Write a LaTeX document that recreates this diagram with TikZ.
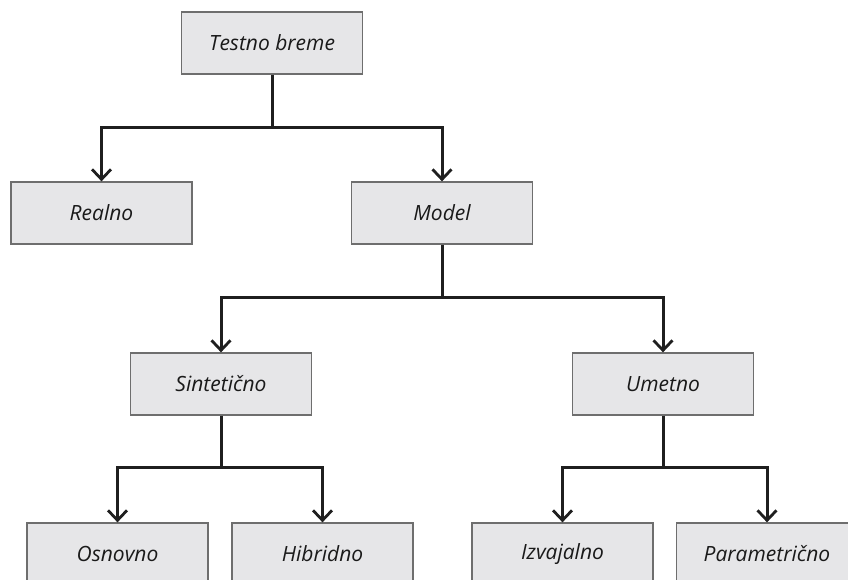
\documentclass[tikz,border=0pt]{standalone}
\usepackage{fontspec}
\setmainfont{Open Sans}
\usetikzlibrary{arrows.meta}
\definecolor{boxfill}{HTML}{E6E6E8}
\definecolor{boxline}{HTML}{6E6E6E}
\definecolor{txt}{HTML}{1A1A1A}
\tikzset{
  box/.style={draw=boxline, line width=1.3pt, fill=boxfill, minimum width=181pt, minimum height=62pt, inner sep=0pt,
    font=\fontsize{21}{24}\selectfont\itshape, text=txt},
  conn/.style={line width=3pt, draw=black!88},
  arr/.style={conn, -{Straight Barb[length=10pt, width=19pt, line width=2.8pt]}},
}
\begin{document}
\begin{tikzpicture}[x=1pt, y=-1pt]
\useasboundingbox (0,0) rectangle (848,580);
\clip (0,0) rectangle (848,580);
\node[box] (t) at (272,43) {Testno breme};
\node[box] (r) at (101.5,213) {Realno};
\node[box] (m) at (442,213) {Model};
\node[box] (s) at (221,384) {Sintetično};
\node[box] (u) at (663,384) {Umetno};
\node[box] (o) at (117.5,554) {Osnovno};
\node[box] (h) at (322.5,554) {Hibridno};
\node[box] (i) at (562.5,554) {Izvajalno};
\node[box] (p) at (767,554) {Parametrično};
\coordinate (j1) at (272,128);
\coordinate (j2) at (442,297);
\coordinate (j3) at (221,467);
\coordinate (j4) at (663,467);
\draw[conn] (t.south) -- (j1);
\draw[arr] (j1) -| (r.north);
\draw[arr] (j1) -| (m.north);
\draw[conn] (m.south) -- (j2);
\draw[arr] (j2) -| (s.north);
\draw[arr] (j2) -| (u.north);
\draw[conn] (s.south) -- (j3);
\draw[arr] (j3) -| (o.north);
\draw[arr] (j3) -| (h.north);
\draw[conn] (u.south) -- (j4);
\draw[arr] (j4) -| (i.north);
\draw[arr] (j4) -| (p.north);
\end{tikzpicture}
\end{document}
